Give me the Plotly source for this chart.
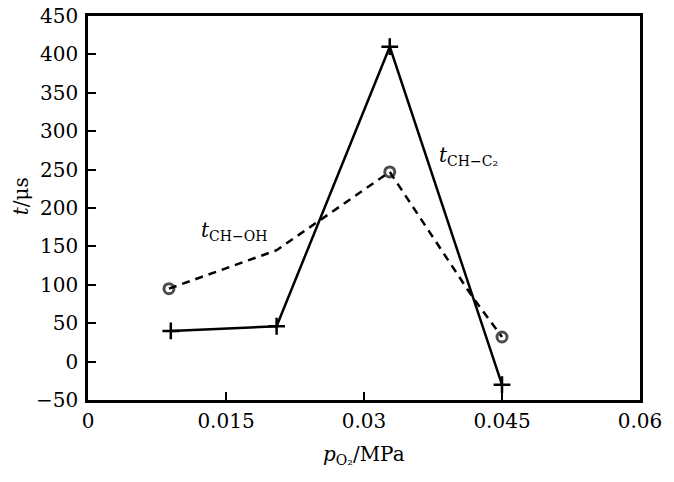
import plotly.graph_objects as go

# Data
x_ch_c2 = [0.009, 0.0205, 0.0328, 0.045]
t_ch_c2 = [40, 46, 410, -30]

x_ch_oh = [0.0088, 0.0205, 0.0328, 0.0418, 0.045]
t_ch_oh = [95, 145, 247, 84, 32]
oh_marker_sym = ["circle-open", "circle-open", "circle-open", "line-ew-open", "circle-open"]
oh_marker_size = [10, 0, 10, 0, 10]

x_tickvals = [0, 0.015, 0.03, 0.045, 0.06]
x_ticktext = ["0", "0.015", "0.03", "0.045", "0.06"]
y_tickvals = [-50, 0, 50, 100, 150, 200, 250, 300, 350, 400, 450]

FONT = "DejaVu Serif"

fig = go.Figure()
fig.add_trace(go.Scatter(
    x=x_ch_oh, y=t_ch_oh, mode="lines+markers",
    line=dict(color="black", width=2.5, dash="8px,6px"),
    marker=dict(symbol=oh_marker_sym, size=oh_marker_size, color="black",
                line=dict(color="black", width=3)),
    showlegend=False,
))
fig.add_trace(go.Scatter(
    x=x_ch_c2, y=t_ch_c2, mode="lines+markers",
    line=dict(color="black", width=2.5),
    marker=dict(symbol="cross-thin-open", size=12, color="black",
                line=dict(color="black", width=2.5)),
    showlegend=False,
))

fig.update_layout(
    width=666, height=474,
    margin=dict(l=80, r=34, t=8, b=82, autoexpand=False),
    paper_bgcolor="white", plot_bgcolor="white",
    font=dict(family=FONT, size=20, color="black"),
    xaxis=dict(range=[0, 0.06], tickvals=x_tickvals, ticktext=x_ticktext,
               ticks="inside", ticklen=8, tickwidth=2, tickcolor="black",
               ticklabelstandoff=1, automargin=False, ticklabeloverflow="allow",
               showline=True, linewidth=2.5, linecolor="black", mirror=True,
               showgrid=False, zeroline=False),
    yaxis=dict(range=[-50, 450], tickvals=y_tickvals,
               ticks="inside", ticklen=8, tickwidth=2, tickcolor="black",
               ticklabelstandoff=3, automargin=False, ticklabeloverflow="allow",
               showline=True, linewidth=2.5, linecolor="black", mirror=True,
               showgrid=False, zeroline=False),
    annotations=[
        dict(text="<i>p</i><sub>O₂</sub>/MPa", xref="paper", yref="paper",
             x=0.5, y=-0.105, xanchor="center", yanchor="top", showarrow=False,
             font=dict(family=FONT, size=20)),
        dict(text="<i>t</i>/μs", xref="paper", yref="paper",
             x=-0.12, y=0.53, xanchor="center", yanchor="middle", showarrow=False,
             textangle=-90, font=dict(family=FONT, size=20)),
        dict(text="<i>t</i><sub>CH−OH</sub>", xref="x", yref="y",
             x=0.0121, y=170, xanchor="left", yanchor="middle", showarrow=False,
             font=dict(family=FONT, size=20)),
        dict(text="<i>t</i><sub>CH−C₂</sub>", xref="x", yref="y",
             x=0.0379, y=268, xanchor="left", yanchor="middle", showarrow=False,
             font=dict(family=FONT, size=20)),
    ],
)

fig.write_html("out.html")
